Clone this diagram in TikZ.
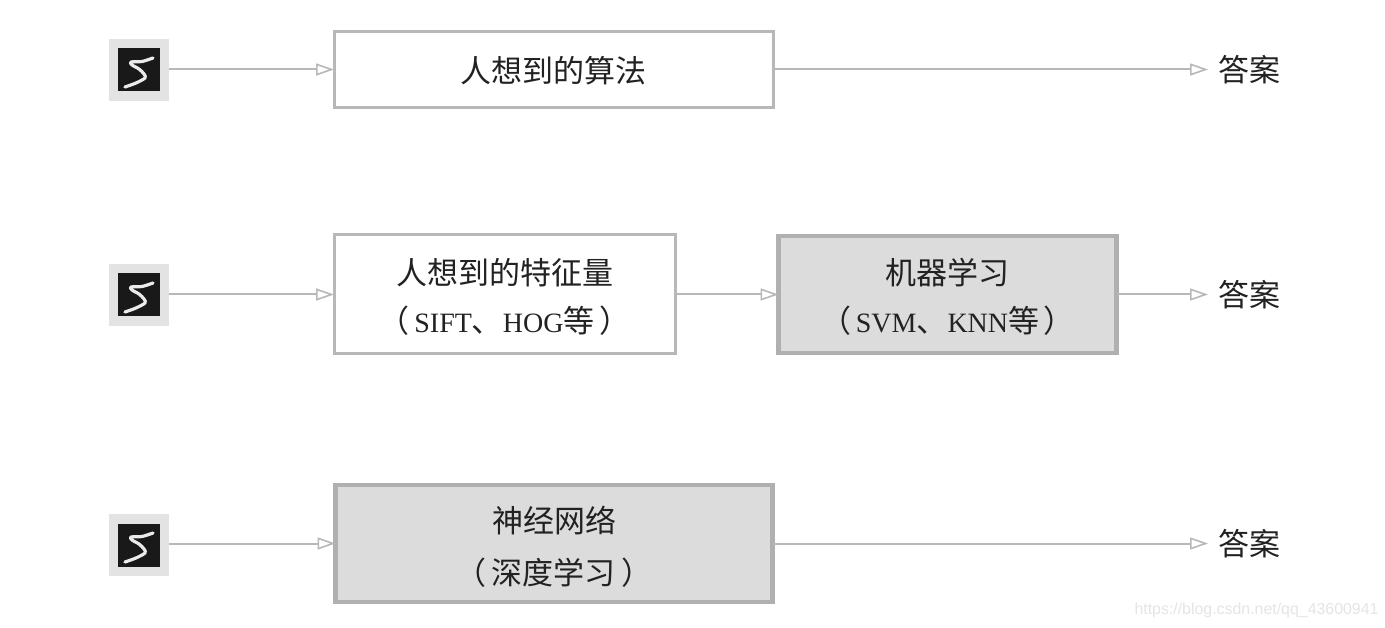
\documentclass[tikz,border=0pt]{standalone}
\usepackage{fontspec}
\setmainfont{Liberation Serif}
\newfontfamily\cjkf{Noto Sans CJK SC}
\newfontfamily\wmfont{Liberation Sans}
\usetikzlibrary{arrows.meta}
\definecolor{linegray}{HTML}{B8B8B8}
\definecolor{boxgray}{HTML}{B0B0B0}
\definecolor{fillgray}{HTML}{DCDCDC}
\definecolor{tilegray}{HTML}{E4E3E4}
\definecolor{inkc}{HTML}{222222}
\newcommand{\C}[1]{{\fontsize{31}{50}\cjkf\selectfont #1}}
\tikzset{
  x=1pt,y=-1pt,
  plainbox/.style={draw=linegray,fill=white,line width=3pt,inner sep=0pt,outer sep=0pt},
  darkbox/.style={plainbox,draw=boxgray,fill=fillgray,line width=4.5pt},
  boxtext/.style={inner sep=0pt,align=center,text=inkc,font=\fontsize{28}{50}\selectfont},
  tile/.style={fill=tilegray,inner sep=0pt,outer sep=0pt,minimum width=60pt,minimum height=62pt},
  digitbg/.style={fill=black!90,inner sep=0pt,outer sep=0pt,minimum width=42pt,minimum height=43pt},
  answer/.style={inner xsep=10pt,inner ysep=2pt,outer sep=0pt,text=inkc},
  flow/.style={draw=linegray,line width=2pt,-{Triangle[open,fill=white,length=18pt,width=12pt,line width=1.6pt]}},
  mark stroke/.style={draw=white!92!black,line width=3.2pt,line join=round,line cap=round}
}
\newcommand{\digitat}[2]{%
  \node[tile] (#1) at (139,#2) {};
  \node[digitbg] (#1d) at (139,#2) {};
  \begin{scope}[shift={(#1d.center)}]
    \draw[mark stroke] plot[smooth,tension=.5] coordinates {(14,-12) (3,-8.5) (-8,-8) (-7,-5) (0,-1) (5,4) (6,8) (-3,13) (-14,17)};
  \end{scope}
}
\begin{document}
\begin{tikzpicture}
\useasboundingbox (0,0) rectangle (1385,628);
\fill[white] (0,0) rectangle (1385,628);
\digitat{a}{70}
\digitat{b}{295}
\digitat{c}{545}

\node[plainbox,minimum width=439pt,minimum height=76pt] (b1) at (553.5,69.5) {};
\node[plainbox,minimum width=341pt,minimum height=119pt] (b2) at (504.5,294.5) {};
\node[darkbox,minimum width=338pt,minimum height=117pt] (b3) at (947.5,294.5) {};
\node[darkbox,minimum width=437pt,minimum height=117pt] (b4) at (554,543.5) {};

\node[boxtext] (t1) at ([yshift=-1pt]b1.center) {\C{人想到的算法}};
\node[boxtext] (t2) at ([yshift=-2.5pt]b2.center) {\C{人想到的特征量}\\[-2pt]\C{（}\,SIFT\C{、}HOG\C{等}\,\C{）}};
\node[boxtext] (t3) at ([yshift=-2.5pt]b3.center) {\C{机器学习}\\[-2pt]\C{（}\,SVM\C{、}KNN\C{等}\,\C{）}};
\node[boxtext] (t4) at ([yshift=-3.5pt]b4.center) {\C{神经网络}\\[2pt]\C{（\,深度学习\,）}};

\node[answer] (r1) at (1249,70) {\C{答案}};
\node[answer] (r2) at (1249,295) {\C{答案}};
\node[answer] (r3) at (1249,544) {\C{答案}};

\draw[flow] (a.east |- b1.west) -- (b1.west);
\draw[flow] (b.east |- b2.west) -- (b2.west);
\draw[flow] (c.east |- b4.west) -- (b4.west);
\draw[flow] (b1.east) -- (r1.west |- b1.east);
\draw[flow] (b2.east) -- (b3.west);
\draw[flow] (b3.east) -- (r2.west |- b3.east);
\draw[flow] (b4.east) -- (r3.west |- b4.east);

\node[text=black!10,font=\wmfont\fontsize{15.9}{20}\selectfont,inner sep=0pt] (wm) at (1256.5,610) {https://blog.csdn.net/qq\_43600941};
\end{tikzpicture}
\end{document}
